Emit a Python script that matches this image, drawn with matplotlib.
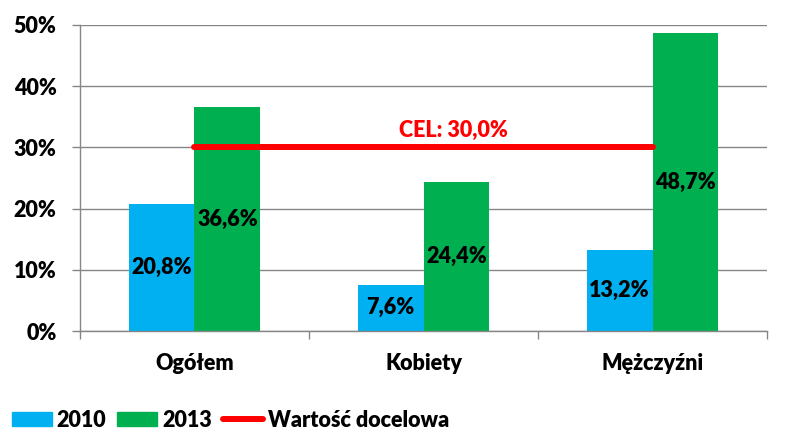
import matplotlib.pyplot as plt
from matplotlib.patches import Patch
from matplotlib.lines import Line2D

categories = ['Ogółem', 'Kobiety', 'Mężczyźni']
values_2010 = [20.8, 7.6, 13.2]
values_2013 = [36.6, 24.4, 48.7]
target = 30.0
yticks = [0, 10, 20, 30, 40, 50]

BLUE = '#00B0F0'
GREEN = '#00B050'
RED = '#FF0000'
GRAY = '#868686'
FS = 15.5

plt.rcParams['font.family'] = ['Lato', 'DejaVu Sans']
plt.rcParams['font.weight'] = 'heavy'


def fmt(v):
    return f'{v:.1f}%'.replace('.', ',')


fig = plt.figure(figsize=(7.91, 4.46), dpi=100)
ax = fig.add_axes([0.1011, 0.2578, 0.8686, 0.6862])

x = list(range(len(categories)))
w = 0.288
b1 = ax.bar([i - w / 2 for i in x], values_2010, w, color=BLUE, zorder=2)
b2 = ax.bar([i + w / 2 for i in x], values_2013, w, color=GREEN, zorder=2)
ax.bar_label(b1, labels=[fmt(v) for v in values_2010], label_type='center',
             fontsize=FS, fontweight='heavy', zorder=5)
ax.bar_label(b2, labels=[fmt(v) for v in values_2013], label_type='center',
             fontsize=FS, fontweight='heavy', zorder=5)

# target line
ax.plot([x[0], x[-1]], [target, target], color=RED, lw=4.3,
        solid_capstyle='round', zorder=4)
ax.text(1.13, target + 2.8, 'CEL: ' + fmt(target), color=RED, fontsize=FS,
        fontweight='heavy', ha='center', va='center')

ax.set_xlim(-0.5, 2.5)
ax.set_ylim(0, 50)
ax.set_yticks(yticks)
ax.set_yticklabels([f'{t}%' for t in yticks])
ax.yaxis.grid(True, color=GRAY, lw=1)
ax.set_axisbelow(True)
ax.tick_params(axis='y', length=5.8, color=GRAY, width=1, pad=11, labelsize=FS)

ax.set_xticks(x)
ax.set_xticklabels(categories)
ax.set_xticks([-0.5, 0.5, 1.5, 2.5], minor=True)
ax.tick_params(axis='x', which='major', length=0, pad=16, labelsize=FS)
ax.tick_params(axis='x', which='minor', length=5.8, color=GRAY, width=1)

for s in ['top', 'right']:
    ax.spines[s].set_visible(False)
for s in ['left', 'bottom']:
    ax.spines[s].set_color(GRAY)
    ax.spines[s].set_linewidth(1)

handles = [Patch(color=BLUE, label='2010'),
           Patch(color=GREEN, label='2013'),
           Line2D([0], [0], color=RED, lw=4.3, solid_capstyle='round',
                  label='Wartość docelowa')]
fig.legend(handles=handles, loc='center left', bbox_to_anchor=(0.015, 0.058),
           ncol=3, frameon=False, fontsize=FS, handlelength=1.86,
           handleheight=0.65, handletextpad=0.23, columnspacing=0.5,
           borderpad=0, borderaxespad=0)

fig.savefig('out.png', dpi=100)
